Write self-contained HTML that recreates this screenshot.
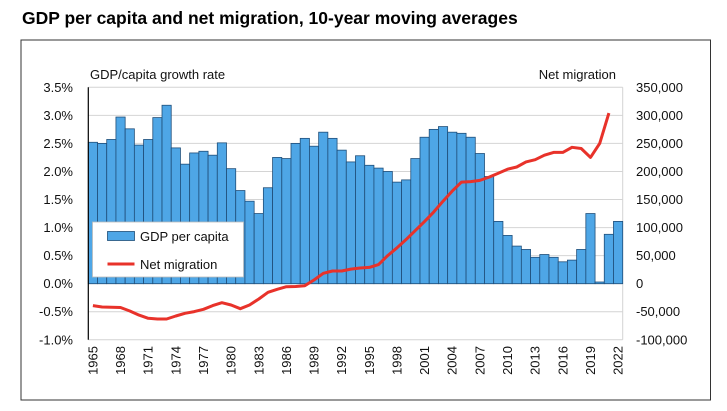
<!DOCTYPE html>
<html><head><meta charset="utf-8"><style>
body{margin:0;background:#fff;font-family:"Liberation Sans",Arial,sans-serif;}
#wrap{position:relative;width:727px;height:411px;overflow:hidden;}
#title{position:absolute;left:22px;top:8px;font-size:17.5px;font-weight:bold;color:#000;margin:0;}
svg{position:absolute;left:0;top:0;}
text{font-family:"Liberation Sans",Arial,sans-serif;fill:#111;}
</style></head><body>
<div id="wrap">
<h1 id="title">GDP per capita and net migration, 10-year moving averages</h1>
<svg id="chart" width="727" height="411"></svg>
</div>
<script>
const years = [];
for (let y = 1965; y <= 2022; y++) years.push(y);
const gdpGrowth = [2.52,2.50,2.57,2.97,2.76,2.47,2.57,2.96,3.18,2.42,2.13,2.33,2.36,2.29,2.51,2.05,1.66,1.47,1.25,1.71,2.25,2.23,2.50,2.59,2.45,2.70,2.59,2.38,2.17,2.28,2.11,2.06,2.00,1.81,1.85,2.23,2.61,2.75,2.80,2.70,2.68,2.61,2.32,1.91,1.11,0.86,0.67,0.61,0.47,0.52,0.47,0.39,0.42,0.61,1.25,0.03,0.88,1.11];
const netMigration = [-39000,-41500,-42000,-42500,-48600,-56000,-61700,-63000,-63000,-57600,-52800,-49700,-45600,-39000,-33800,-38000,-44600,-38000,-27300,-15400,-10000,-5300,-5000,-3500,6600,18500,22700,22700,26000,28000,29000,34000,50000,64000,79000,95000,111000,128000,147000,165000,181000,182000,184000,190000,197000,204000,208000,217000,221000,229000,234000,234000,243000,241000,225000,250000,304000];
const leftTicks = [3.5,3.0,2.5,2.0,1.5,1.0,0.5,0.0,-0.5,-1.0];
const rightTicks = [350000,300000,250000,200000,150000,100000,50000,0,-50000,-100000];

const svg = document.getElementById('chart');
const NS = 'http://www.w3.org/2000/svg';
const X0 = 88.3, X1 = 622.7, YT = 87.3, YB = 339.8;
const bw = (X1 - X0) / years.length;
function yL(v){ return YT + (3.5 - v) / 4.5 * (YB - YT); }
function yR(v){ return YT + (350000 - v) / 450000 * (YB - YT); }
function xC(i){ return X0 + bw * (i + 0.5); }
function mk(tag, attrs, parent){ const e = document.createElementNS(NS, tag); for (const k in attrs) e.setAttribute(k, attrs[k]); (parent||svg).appendChild(e); return e; }

// frame
const frame = mk('rect', {x:21, y:40, width:689.5, height:360, fill:'none', stroke:'#333', 'stroke-width':1});



// gridlines & left labels
leftTicks.forEach(function(t){
  const g = mk('line', {x1:X0, x2:X1, y1:yL(t), y2:yL(t), stroke:'#d4d4d4', 'stroke-width':1});
  
  
  const tx = mk('text', {x:73, y:yL(t)+4.5, 'text-anchor':'end', 'font-size':13});
  tx.textContent = t.toFixed(1) + '%';
  
  
});
rightTicks.forEach(function(t){
  const tx = mk('text', {x:636, y:yR(t)+4.5, 'font-size':13});
  tx.textContent = (t < 0 ? '-' : '') + Math.abs(t).toLocaleString('en-US');
  
  
});
const rb = mk('line', {x1:X1, x2:X1, y1:YT, y2:YB, stroke:'#d4d4d4'});



// bars
gdpGrowth.forEach(function(v, i){
  const y0 = yL(0), yv = yL(v);
  const r = mk('rect', {x:X0 + bw*i, y:Math.min(y0,yv), width:bw, height:Math.max(0.8, Math.abs(y0-yv)), fill:'#4ea6e6', stroke:'#1f4e79', 'stroke-width':0.8});
  
  
});

// line
let d = '';
netMigration.forEach(function(v, i){ d += (i ? 'L' : 'M') + xC(i).toFixed(1) + ',' + yR(v).toFixed(1); });
const ln = mk('path', {d:d, fill:'none', stroke:'#e8322a', 'stroke-width':3, 'stroke-linejoin':'round'});



// left axis
const ax = mk('line', {x1:X0, x2:X0, y1:YT, y2:YB, stroke:'#000', 'stroke-width':1.2});



// x labels
years.forEach(function(y, i){
  if ((y - 1965) % 3 !== 0) return;
  const tx = mk('text', {x:0, y:0, 'text-anchor':'end', 'font-size':13, transform:'translate(' + (xC(i)+4.5) + ',346) rotate(-90)'});
  tx.textContent = y;
  
  
});

// axis titles
const lt = mk('text', {x:90, y:79, 'font-size':13});
lt.textContent = 'GDP/capita growth rate';


const rt = mk('text', {x:616, y:79, 'text-anchor':'end', 'font-size':13});
rt.textContent = 'Net migration';



// legend
const lg = mk('g', {});


mk('rect', {x:92.5, y:222, width:151, height:55, fill:'#fff', stroke:'#bbb', 'stroke-width':0.8}, lg);
const sw = mk('rect', {x:107.5, y:231.5, width:27, height:9, fill:'#4ea6e6', stroke:'#1f4e79', 'stroke-width':0.8}, lg);


const l1 = mk('text', {x:140, y:241, 'font-size':13}, lg);
l1.textContent = 'GDP per capita';


const sl = mk('line', {x1:107.5, x2:134.5, y1:264, y2:264, stroke:'#e8322a', 'stroke-width':3}, lg);


const l2 = mk('text', {x:140, y:269, 'font-size':13}, lg);
l2.textContent = 'Net migration';


</script>
</body></html>
